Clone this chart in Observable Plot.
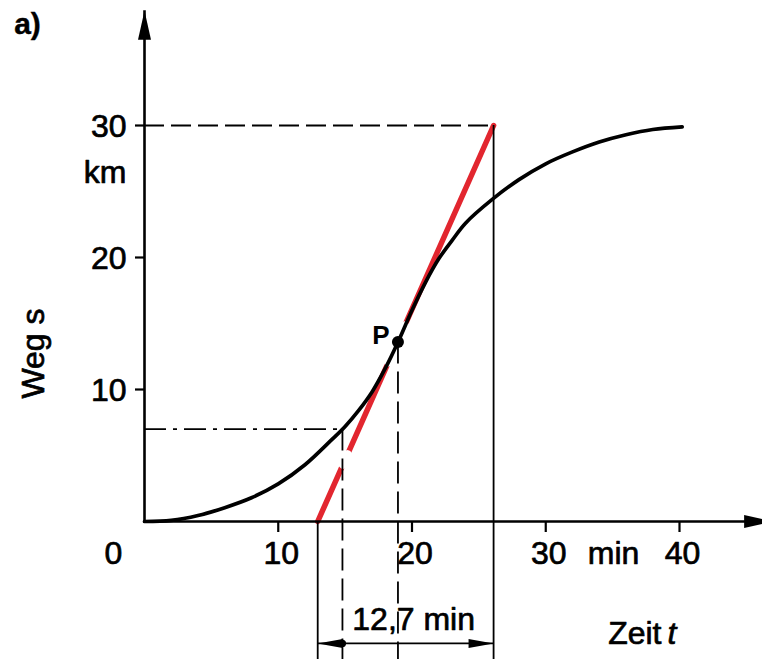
<!DOCTYPE html>
<html>
<head>
<meta charset="utf-8">
<script src="https://cdn.jsdelivr.net/npm/d3@7"></script>
<script src="https://cdn.jsdelivr.net/npm/@observablehq/plot@0.6"></script>
<style>
  html, body { margin: 0; padding: 0; background: #fff; }
  #chart svg { display: block; }
</style>
</head>
<body>
<div id="chart"></div>
<script>
// ---- data ----
const curveT = [0, 2, 4, 6, 8, 10, 12, 14, 15, 16, 17, 18, 19, 20, 21, 22, 23, 24, 26, 28, 30, 32, 34, 36, 38, 40.2];
const curveS = [0, 0.08, 0.45, 1.05, 1.8, 2.85, 4.3, 6.2, 7.2, 8.4, 9.8, 11.6, 13.7, 16.0, 18.1, 19.9, 21.3, 22.6, 24.4, 25.9, 27.1, 28.0, 28.75, 29.3, 29.7, 29.9];
const tangentT = [12.95, 26.1];
const tangentS = [0, 30];
const pointT = [18.95];
const pointS = [13.6];
const readT = [14.8];
const readS = [7.0];
const xTicks = [10, 20, 30, 40];
const xTickLabels = ["10", "20", "30", "40"];
const yTicks = [10, 20, 30];
const yTickLabels = ["10", "20", "30"];
const originLabel = ["0"];
const xUnit = ["min"];
const yUnit = ["km"];
const xTitle = ["Zeit", "t"];
const yTitle = ["Weg s"];
const dimLabel = ["12,7 min"];
const pointLabel = ["P"];
const panelLabel = ["a)"];
// gaps in the red tangent (s ranges where it is hidden)
const gapNearP = [12.05, 14.85];
const gapAtRead = [4.3, 5.1];
// axis / construction extents in data units
const xTip = [47.0];
const yTip = [38.7];
const dimS = [-9.24];
const belowS = [-11];

// ---- build ----
const FONT = "Liberation Sans, Arial, Helvetica, sans-serif";
const RED = "#e2262f";
const rows = curveT.map((t, i) => ({t, s: curveS[i]}));
const tangentRows = tangentT.map((t, i) => ({t, s: tangentS[i]}));
const tAt = s => tangentT[0] + (s - tangentS[0]) * (tangentT[1] - tangentT[0]) / (tangentS[1] - tangentS[0]);
const gapRows = [gapNearP, gapAtRead].flatMap((g, k) => g.map(s => ({t: tAt(s), s, k})));

const headAxis = {draw(c) { c.moveTo(0, 0); c.lineTo(6.5, 29); c.lineTo(-6.5, 29); c.closePath(); }};
const headDim = {draw(c) { c.moveTo(0, 0); c.lineTo(4.5, 25); c.lineTo(-4.5, 25); c.closePath(); }};

const thin = 1.8;
const txt = {fontFamily: FONT, fontSize: 32, fill: "#000", stroke: "#000", strokeWidth: 0.7};

const chart = Plot.plot({
  width: 762,
  height: 659,
  marginLeft: 144,
  marginRight: 83,
  marginTop: 125,
  marginBottom: 138,
  x: {domain: [0, 40]},
  y: {domain: [0, 30]},
  style: {fontFamily: FONT, background: "#fff"},
  marks: [
    // tangent with its small gaps
    Plot.line(tangentRows, {x: "t", y: "s", stroke: RED, strokeWidth: 5.5}),
    Plot.line(gapRows, {x: "t", y: "s", z: "k", stroke: "#fff", strokeWidth: 8}),
    // construction lines
    Plot.ruleY([tangentS[1]], {x1: 0, x2: tangentT[1], stroke: "#000", strokeWidth: thin, strokeDasharray: "20,7"}),
    Plot.ruleY(readS, {x1: 0, x2: readT[0], stroke: "#000", strokeWidth: thin, strokeDasharray: "22,7,4,7"}),
    Plot.ruleX([tangentT[0]], {y1: 0, y2: belowS[0], stroke: "#000", strokeWidth: thin}),
    Plot.ruleX([tangentT[1]], {y1: tangentS[1], y2: belowS[0], stroke: "#000", strokeWidth: thin}),
    Plot.ruleX(readT, {y1: readS[0], y2: belowS[0], stroke: "#000", strokeWidth: thin, strokeDasharray: "22,8"}),
    Plot.ruleX(pointT, {y1: pointS[0], y2: belowS[0], stroke: "#000", strokeWidth: thin, strokeDasharray: "22,8"}),
    // axes
    Plot.ruleY([0], {x1: 0, x2: xTip[0], stroke: "#000", strokeWidth: 2.6}),
    Plot.ruleX([0], {y1: 0, y2: yTip[0], stroke: "#000", strokeWidth: 2.6}),
    Plot.axisX({ticks: xTicks, tickSize: 11, fill: "none", stroke: "#000", strokeWidth: 2.2, label: null}),
    Plot.axisY({ticks: yTicks, tickSize: 9, fill: "none", stroke: "#000", strokeWidth: 2.2, label: null}),
    Plot.dot([{t: xTip[0], s: 0, a: 90}, {t: 0, s: yTip[0], a: 0}], {x: "t", y: "s", rotate: "a", symbol: headAxis, fill: "#000", stroke: "none"}),
    // the curve s(t)
    Plot.line(rows, {x: "t", y: "s", stroke: "#000", strokeWidth: 3.7, curve: "catmull-rom", strokeLinecap: "round"}),
    Plot.dot(pointT.map((t, i) => ({t, s: pointS[i]})), {x: "t", y: "s", r: 6, fill: "#000", stroke: "none"}),
    // dimension line
    Plot.ruleY(dimS, {x1: tangentT[0], x2: tangentT[1], stroke: "#000", strokeWidth: thin}),
    Plot.dot([{t: tangentT[0], s: dimS[0], a: -90}, {t: tangentT[1], s: dimS[0], a: 90}], {x: "t", y: "s", rotate: "a", symbol: headDim, fill: "#000", stroke: "none"}),
    Plot.dot(readT.map(t => ({t, s: dimS[0]})), {x: "t", y: "s", r: 3.6, fill: "#000", stroke: "none"}),
    // texts
    Plot.text(xTicks, {x: d => d, y: 0, text: (d, i) => xTickLabels[i], dx: 3, dy: 32, ...txt}),
    Plot.text(originLabel, {x: 0, y: 0, text: d => d, dx: -31, dy: 32, ...txt}),
    Plot.text(xUnit, {x: (xTicks[2] + xTicks[3]) / 2, y: 0, text: d => d, dx: 1, dy: 32, ...txt}),
    Plot.text(yTicks, {x: 0, y: d => d, text: (d, i) => yTickLabels[i], textAnchor: "end", dx: -18, dy: 1, ...txt}),
    Plot.text(yUnit, {x: 0, y: yTicks[yTicks.length - 1], text: d => d, textAnchor: "end", dx: -18, dy: 47, ...txt}),
    Plot.text(yTitle, {x: 0, y: 0, text: d => d, rotate: -90, dx: -111, dy: -168, ...txt}),
    Plot.text([xTitle[0]], {x: xTicks[3], y: 0, text: d => d, textAnchor: "end", dx: -18, dy: 112, ...txt}),
    Plot.text([xTitle[1]], {x: xTicks[3], y: 0, text: d => d, textAnchor: "start", dx: -12, dy: 112, fontStyle: "italic", ...txt}),
    Plot.text(dimLabel, {x: (tangentT[0] + tangentT[1]) / 2, y: dimS[0], text: d => d, dx: 8, dy: -24, ...txt}),
    Plot.text(pointLabel, {x: pointT[0], y: pointS[0], text: d => d, dx: -17, dy: -6, ...txt, fontSize: 26, fontWeight: "bold", strokeWidth: 0}),
    Plot.text(panelLabel, {x: 0, y: yTip[0], text: d => d, dx: -117, dy: 14, ...txt, fontSize: 30, fontWeight: "bold", strokeWidth: 0.4})
  ]
});
document.getElementById("chart").appendChild(chart);
</script>
</body>
</html>
